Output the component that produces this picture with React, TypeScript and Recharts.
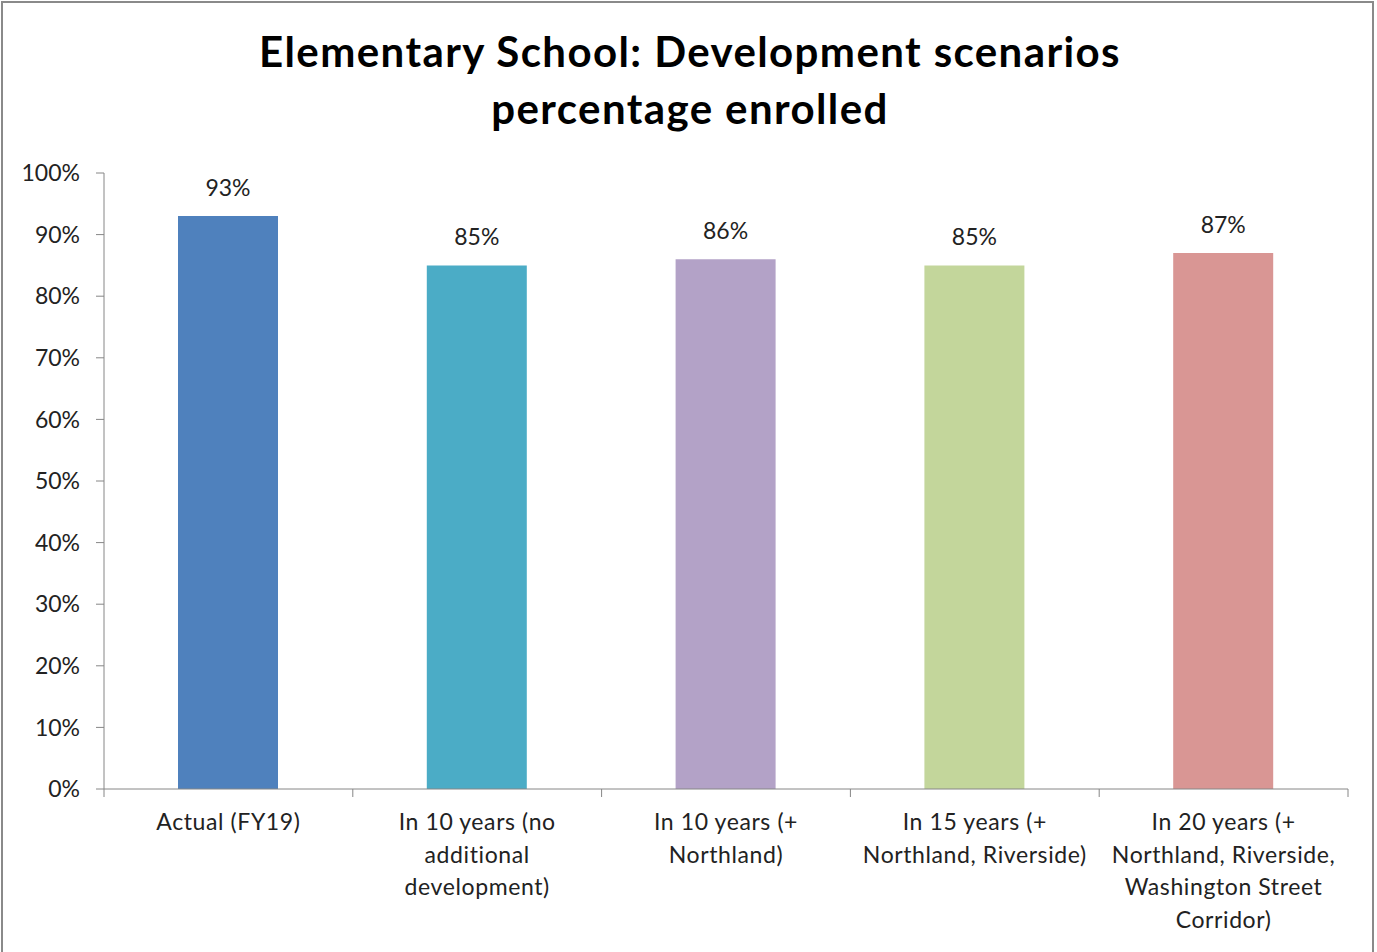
import { BarChart, Bar, XAxis, YAxis, Cell, LabelList } from "recharts"

const categories = [
  "Actual (FY19)",
  "In 10 years (no\nadditional\ndevelopment)",
  "In 10 years (+\nNorthland)",
  "In 15 years (+\nNorthland, Riverside)",
  "In 20 years (+\nNorthland, Riverside,\nWashington Street\nCorridor)",
]
const enrolled = [93, 85, 86, 85, 87]
const barColors = ["#4F81BD", "#4BACC6", "#B3A2C7", "#C3D69B", "#D99694"]
const yTicks = [0, 10, 20, 30, 40, 50, 60, 70, 80, 90, 100]

const data = categories.map((name, i) => ({ name, value: enrolled[i] }))

const FONT = "Lato, 'Open Sans', sans-serif"
const AXIS = "#868686"
const CHART_W = 1377
const CHART_H = 952
const PLOT_LEFT = 104
const PLOT_RIGHT = 29
const BAND = (CHART_W - PLOT_LEFT - PLOT_RIGHT) / categories.length

function CategoryTick(props: any) {
  const { x, y, payload, index } = props
  const lines = String(payload.value).split("\n")
  return (
    <g>
      {index === 0 && (
        <line x1={x - BAND / 2} x2={x - BAND / 2} y1={y} y2={y + 8} stroke={AXIS} />
      )}
      <line x1={x + BAND / 2} x2={x + BAND / 2} y1={y} y2={y + 8} stroke={AXIS} />
      <text
        x={x}
        y={y + 41}
        textAnchor="middle"
        fontSize={23}
        letterSpacing={0.6}
        fill="#222"
        fontFamily={FONT}
      >
        {lines.map((l, i) => (
          <tspan key={i} x={x} dy={i === 0 ? 0 : 32.5}>
            {l}
          </tspan>
        ))}
      </text>
    </g>
  )
}

export default function App() {
  return (
    <div
      style={{
        position: "absolute",
        left: 0,
        top: 0,
        width: CHART_W,
        height: CHART_H,
        overflow: "hidden",
        background: "#fff",
        fontFamily: FONT,
      }}
    >
      <div
        style={{
          position: "absolute",
          left: 1,
          top: 1,
          width: 1373,
          height: 1000,
          border: "2px solid #8a8a8a",
          boxSizing: "border-box",
        }}
      />
      <div
        style={{
          position: "absolute",
          left: 0,
          top: 23,
          width: 1380,
          textAlign: "center",
          fontSize: 42,
          fontWeight: 700,
          letterSpacing: 1.4,
          lineHeight: "57px",
          color: "#000",
        }}
      >
        Elementary School: Development scenarios
        <br />
        percentage enrolled
      </div>
      <BarChart
        width={CHART_W}
        height={CHART_H}
        data={data}
        margin={{ top: 173, right: PLOT_RIGHT, left: 0, bottom: 0 }}
        barSize={100}
        style={{ position: "absolute", left: 0, top: 0 }}
      >
        <YAxis
          domain={[0, 100]}
          ticks={yTicks}
          tickFormatter={(v) => `${v}%`}
          width={PLOT_LEFT}
          stroke={AXIS}
          tickSize={8}
          tickMargin={16}
          tick={{ fontSize: 23, fill: "#222", fontFamily: FONT }}
          interval={0}
        />
        <XAxis
          dataKey="name"
          height={CHART_H - 789}
          stroke={AXIS}
          tickLine={false}
          tickSize={0}
          tickMargin={0}
          interval={0}
          tick={<CategoryTick />}
        />
        <Bar dataKey="value" isAnimationActive={false}>
          {data.map((d, i) => (
            <Cell key={d.name} fill={barColors[i]} />
          ))}
          <LabelList
            dataKey="value"
            position="top"
            offset={20}
            formatter={(v: any) => `${v}%`}
            style={{ fontSize: 23, fill: "#222", fontFamily: FONT }}
          />
        </Bar>
      </BarChart>
    </div>
  )
}
